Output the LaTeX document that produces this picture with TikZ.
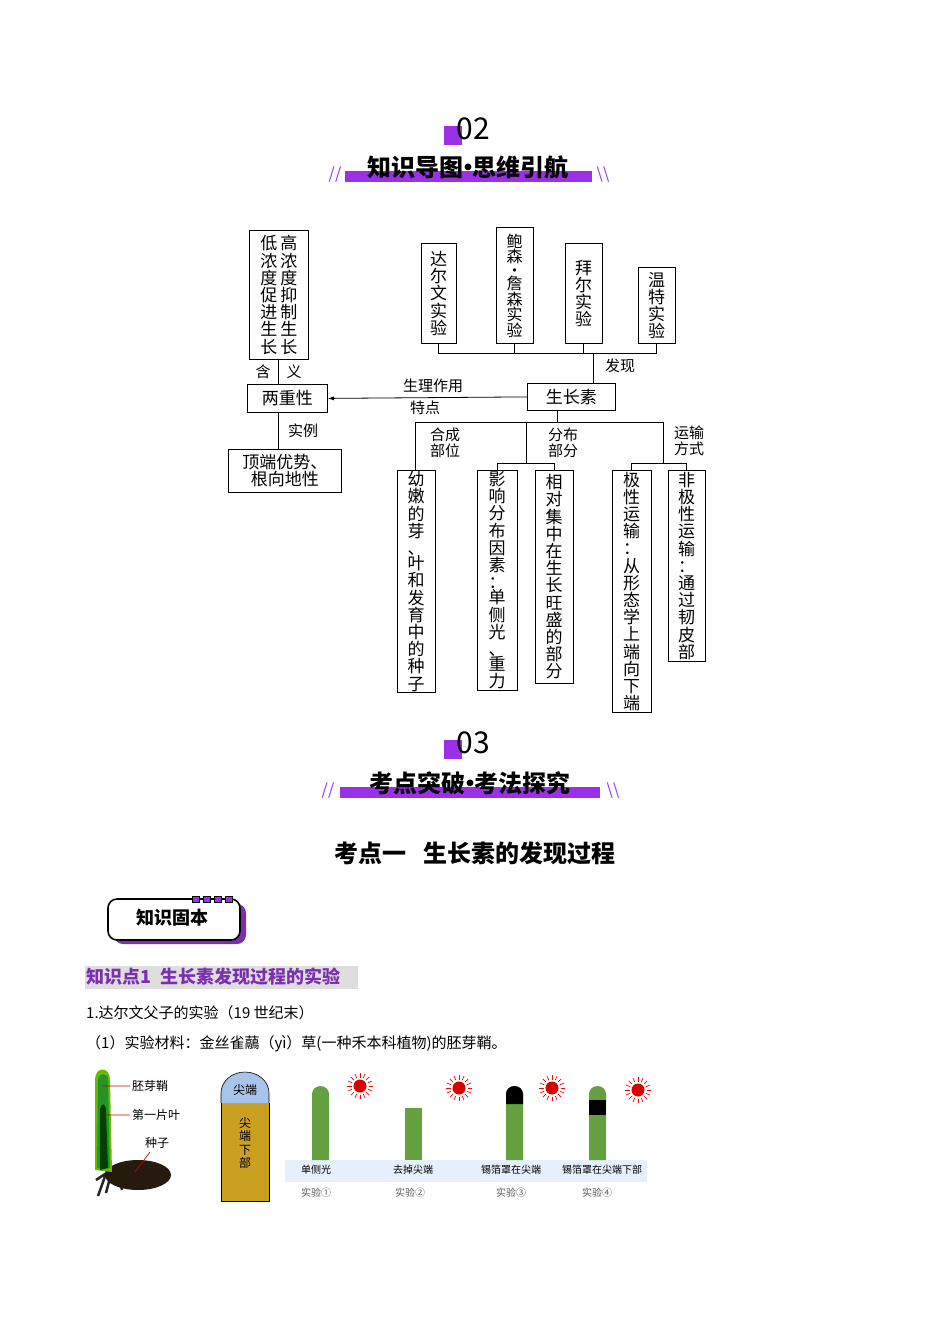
\documentclass[tikz,border=0pt]{standalone}
\usepackage{fontspec}
\setmainfont{Noto Sans CJK SC}
\usetikzlibrary{arrows.meta,shapes.geometric}
\definecolor{pur}{HTML}{9B30E8}
\definecolor{pur2}{HTML}{7B2FB0}
\definecolor{stem}{HTML}{64A040}
\definecolor{band}{HTML}{E6F0FC}
\definecolor{gold}{HTML}{C9A020}
\definecolor{tipblue}{HTML}{A8C4EA}
\tikzset{
 box/.style={draw,line width=0.8pt,inner sep=1pt,align=center,font=\fontsize{17}{17.2}\selectfont},
 vbox/.style={box,anchor=north,text width=18pt},
 lab/.style={font=\fontsize{15}{16}\selectfont,align=left,inner sep=0pt},
 ln/.style={line width=0.8pt},
 sun/.pic={\fill[red!85!black] (0,0) circle (6.5);
   \foreach \a in {0,22.5,...,359} \draw[red,line width=0.7pt] (\a:8.5) -- (\a:13);},
 small/.style={font=\fontsize{10}{11}\selectfont,inner sep=0pt}
}
\begin{document}
\begin{tikzpicture}[x=1pt,y=-1pt]
\useasboundingbox[fill=white] (0,0) rectangle (950,1344);
% header 02
\fill[pur] (444,126) rectangle (462,145);
\node[font=\fontsize{30}{30}\selectfont,inner sep=0pt] (n02) at (473,129) {02};
\fill[pur] (345,171) rectangle (592,182);
\node[font=\bfseries\fontsize{24}{24}\selectfont,inner sep=0pt] (t02) at (468,167) {知识导图\hspace{-0.3em}•\hspace{-0.3em}思维引航};
\node[text=pur,font=\fontsize{16}{16}\selectfont\itshape] (s1) at (335,175) {//};
\node[text=pur,font=\fontsize{16}{16}\selectfont] (s2) at (603,175) {\textbackslash\textbackslash};
% mind map
\node[box,anchor=north west,minimum width=59pt,minimum height=129pt,text width=50pt] (hl) at (249,230) {低\,高\\浓\,浓\\度\,度\\促\,抑\\进\,制\\生\,生\\长\,长};
\node[box,anchor=north west,minimum width=80pt,minimum height=28pt] (lz) at (247,384) {两重性};
\draw[ln] (hl.south -| 278,0) -- (278,384);
\node[lab] (hy) at (263,372) {含};
\node[lab] (hy2) at (294,372) {义};
\node[box,anchor=north west,minimum width=113pt,minimum height=43pt,text width=108pt] (dd) at (228,449) {顶端优势、\\根向地性};
\draw[ln] (278,412) -- (278,449);
\node[lab] (sl) at (303,431) {实例};
\node[box,anchor=north west,minimum width=88pt,minimum height=27pt] (szs) at (527,383) {生长素};
\draw[ln,-{Latex[length=6pt,width=4pt]}] (szs.west) -- (lz.east);
\node[lab] (sz1) at (433,386) {生理作用};
\node[lab] (sz2) at (425,408) {特点};
\node[vbox,minimum width=35pt,minimum height=100pt] (d1) at (438.5,243) {达\\尔\\文\\实\\验};
\node[vbox,minimum width=37pt,minimum height=116pt,font=\fontsize{16}{15.5}\selectfont] (d2) at (514.5,227) {鲍\\森\\[-2pt]·\\[-2pt]詹\\森\\实\\验};
\node[vbox,minimum width=37pt,minimum height=100pt] (d3) at (583.5,243) {拜\\尔\\实\\验};
\node[vbox,minimum width=37pt,minimum height=76pt] (d4) at (656.5,267) {温\\特\\实\\验};
\draw[ln] (d1.south) -- (438.5,353) -- (656.5,353) -- (d4.south);
\draw[ln] (d2.south) -- (514.5,353);
\draw[ln] (d3.south) -- (583.5,353);
\draw[ln] (593,353) -- (593,383);
\node[lab] (fx) at (620,366) {发现};
% bottom
\draw[ln] (557,410) -- (557,422);
\draw[ln] (415,470) -- (415,422) -- (663,422) -- (663,463);
\draw[ln] (526,422) -- (526,463);
\draw[ln] (497,470) -- (497,463) -- (554,463) -- (554,470);
\draw[ln] (631.5,470) -- (631.5,463) -- (686.5,463) -- (686.5,470);
\node[lab] (hc) at (445,443) {合成\\部位};
\node[lab] (fb) at (563,443) {分布\\部分};
\node[lab] (ys) at (689,441) {运输\\方式};
\node[vbox,minimum width=38pt,minimum height=222pt] (b1) at (416,470) {幼\\嫩\\的\\芽\\、\\[-2pt]叶\\和\\发\\育\\中\\的\\种\\子};
\node[vbox,minimum width=40pt,minimum height=220pt] (b2) at (497,470) {影\\响\\分\\布\\因\\素\\：\\[-2pt]单\\侧\\光\\、\\[-2pt]重\\力};
\node[vbox,minimum width=38pt,minimum height=213pt] (b3) at (554,470) {相\\对\\集\\中\\在\\生\\长\\旺\\盛\\的\\部\\分};
\node[vbox,minimum width=39pt,minimum height=242pt] (b4) at (631.5,470) {极\\性\\运\\输\\：\\从\\形\\态\\学\\上\\端\\向\\下\\端};
\node[vbox,minimum width=37pt,minimum height=191pt] (b5) at (686.5,470) {非\\极\\性\\运\\输\\：\\通\\过\\韧\\皮\\部};
% header 03
\fill[pur] (444,740) rectangle (462,759);
\node[font=\fontsize{30}{30}\selectfont,inner sep=0pt] (n03) at (473,743) {03};
\fill[pur] (340,787) rectangle (600,798);
\node[font=\bfseries\fontsize{24}{24}\selectfont,inner sep=0pt] (t03) at (470,783) {考点突破\hspace{-0.3em}•\hspace{-0.3em}考法探究};
\node[text=pur,font=\fontsize{16}{16}\selectfont\itshape] (s3) at (328,791) {//};
\node[text=pur,font=\fontsize{16}{16}\selectfont] (s4) at (613,791) {\textbackslash\textbackslash};
\node[font=\bfseries\fontsize{24}{24}\selectfont,inner sep=0pt] (kd) at (475,853) {考点一\hspace{0.7em}生长素的发现过程};
% badge
\fill[pur2,rounded corners=9pt] (114,904) rectangle (246,944);
\draw[line width=1.6pt,fill=white,rounded corners=9pt] (108,899) rectangle (240,940);
\foreach \i in {0,1,2,3}{\filldraw[fill=pur,draw=black,line width=1pt] (192+\i*11,896) rectangle (199+\i*11,902);}
\node[font=\bfseries\fontsize{18}{18}\selectfont,inner sep=0pt] (zs) at (172,918) {知识固本};
% knowledge heading
\fill[black!13] (85,966) rectangle (358,989);
\node[anchor=west,text=pur2,font=\bfseries\fontsize{18}{18}\selectfont,inner sep=0pt] (zsd) at (86,977) {知识点1\hspace{0.5em}生长素发现过程的实验};
\node[anchor=west,lab] (l1) at (86,1013) {1.达尔文父子的实验（19 世纪末）};
\node[anchor=west,lab] (l2) at (86,1044) {（1）实验材料：金丝雀虉（yì）草(一种禾本科植物)的胚芽鞘。};
% plant
\draw[black!85,line width=2.5pt] (108,1168) -- (98,1196) (112,1170) -- (106,1193) (118,1170) -- (122,1190) (108,1172) -- (96,1180);
\fill[black!80!brown] (138,1175) ellipse (33 and 15);
\fill[green!55!black!60!yellow] (95,1170) -- (95,1080) .. controls (95,1066) and (110,1066) .. (110,1080) -- (112,1172) -- cycle;
\fill[green!50!black!85] (97,1168) -- (98,1080) .. controls (99,1072) and (108,1072) .. (108,1080) -- (110,1168) -- cycle;
\fill[black!75!green] (100,1170) -- (100,1110) .. controls (101,1102) and (106,1102) .. (106,1112) -- (108,1168) -- cycle;
\draw[red!80!black,line width=0.7pt] (103,1086) -- (130,1086) (104,1115) -- (130,1115) (150,1152) -- (135,1172);
\node[anchor=west,small,font=\fontsize{12}{12}\selectfont] (p1) at (132,1086) {胚芽鞘};
\node[anchor=west,small,font=\fontsize{12}{12}\selectfont] (p2) at (132,1115) {第一片叶};
\node[anchor=west,small,font=\fontsize{12}{12}\selectfont] (p3) at (145,1143) {种子};
% tip diagram
\fill[tipblue] (221,1103) -- (221,1093) arc (180:360:24 and 21) -- (269,1103) -- cycle;
\draw[line width=0.6pt] (221,1103) -- (221,1093) arc (180:360:24 and 21) -- (269,1103);
\fill[gold] (221,1103) rectangle (269,1201);
\draw[line width=0.6pt] (221,1103) -- (221,1201) -- (269,1201) -- (269,1103);
\node[small,font=\fontsize{12}{12}\selectfont] (tj) at (245,1090) {尖端};
\node[small,font=\fontsize{12}{13.5}\selectfont,align=center] (tx) at (245,1143) {尖\\端\\下\\部};
% experiments
\fill[band] (285,1160) rectangle (647,1182);
\fill[stem] (312,1160) -- (312,1094) arc (180:360:8.5 and 8) -- (329,1160) -- cycle;
\fill[stem] (405,1108) rectangle (422,1160);
\fill[stem] (506,1160) -- (506,1094) arc (180:360:8.5 and 8) -- (523,1160) -- cycle;
\fill[black] (506,1104) -- (506,1094) arc (180:360:8.5 and 8) -- (523,1104) -- cycle;
\fill[stem] (589,1160) -- (589,1094) arc (180:360:8.5 and 8) -- (606,1160) -- cycle;
\fill[black] (589,1100) rectangle (606,1115);
\pic at (360,1086) {sun};
\pic at (459,1088) {sun};
\pic at (552,1088) {sun};
\pic at (638,1090) {sun};
\node[small] (e1) at (316,1170) {单侧光};
\node[small] (e2) at (413,1170) {去掉尖端};
\node[small] (e3) at (511,1170) {锡箔罩在尖端};
\node[small] (e4) at (602,1170) {锡箔罩在尖端下部};
\node[small,text=black!65] (f1) at (316,1193) {实验①};
\node[small,text=black!65] (f2) at (410,1193) {实验②};
\node[small,text=black!65] (f3) at (511,1193) {实验③};
\node[small,text=black!65] (f4) at (597,1193) {实验④};
\end{tikzpicture}
\end{document}
